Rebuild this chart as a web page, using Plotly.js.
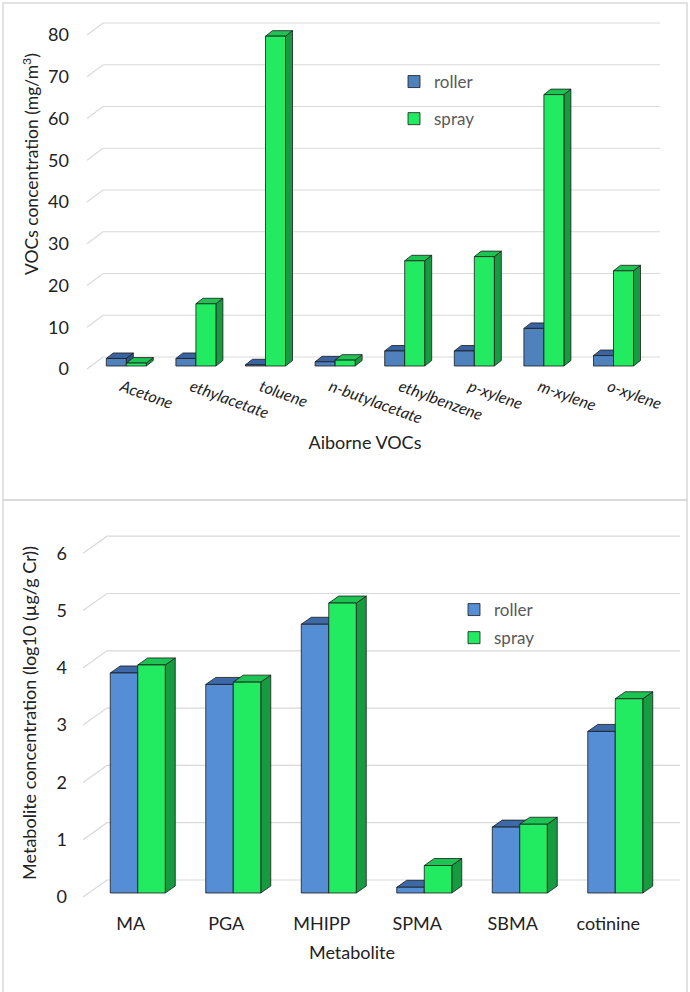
<!DOCTYPE html>
<html><head><meta charset="utf-8">
<script src="https://cdn.plot.ly/plotly-3.0.1.min.js"></script>
<style>html,body{margin:0;padding:0;background:#fff}#chart{width:690px;height:992px}</style>
</head><body><div id="chart"></div>
<script>
// ---------------- data ----------------
const vocCategories = ['Acetone','ethylacetate','toluene','n-butylacetate','ethylbenzene','p-xylene','m-xylene','o-xylene'];
const vocRoller = [1.8, 1.8, 0.3, 1.0, 3.6, 3.6, 9.0, 2.5];
const vocSpray  = [0.7, 14.9, 79.0, 1.4, 25.2, 26.2, 65.0, 22.8];
const vocTicks  = [0,10,20,30,40,50,60,70,80];

const metCategories = ['MA','PGA','MHIPP','SPMA','SBMA','cotinine'];
const metRoller = [3.84, 3.64, 4.69, 0.10, 1.15, 2.82];
const metSpray  = [3.98, 3.68, 5.06, 0.48, 1.20, 3.39];
const metTicks  = [0,1,2,3,4,5,6];

const seriesNames = ['roller','spray'];

// ---------------- geometry / style ----------------
const W = 690, H = 992;
const FONT = 'Lato, "Open Sans", sans-serif';
const TXT = '#222222';
const G1 = {floorL:87, catW:69.6, zeroY:369, ppu:4.175, dX:16, dY:12, barW:20, shX:4.5, shY:3, bdX:7, bdY:5.5,
            plotL:68, plotR:662, plotT:12, plotB:374, wallR:660, axisX:69};
const G2 = {floorL:83, catW:95.5, zeroY:897, ppu:57.3, dX:24, dY:17, barW:27.5, shX:7, shY:4, bdX:10, bdY:7,
            plotL:22, plotR:682, plotT:515, plotB:911, wallR:680, axisX:67};
const COL1 = {roller:'#4F81BD', rollerTop:'#3A64A0', rollerSide:'#2F5288', spray:'#22EB62', sprayTop:'#1DC453', spraySide:'#179B40'};
const COL2 = {roller:'#558ED5', rollerTop:'#3D69A6', rollerSide:'#30558A', spray:'#22EB62', sprayTop:'#1DC453', spraySide:'#179B40'};
const EDGE = '#1a1a1a';

function xRange(g){ return [(g.plotL-g.floorL)/g.catW-0.5, (g.plotR-g.floorL)/g.catW-0.5]; }
function yRange(g){ return [(g.zeroY-g.plotB)/g.ppu, (g.zeroY-g.plotT)/g.ppu]; }
function xDomain(g){ return [g.plotL/W, g.plotR/W]; }
function yDomain(g){ return [1-g.plotB/H, 1-g.plotT/H]; }
function pxToX(g,px){ return (px-g.floorL)/g.catW-0.5; }

function barTraces(g, cats, roller, spray, xa, ya, legend, col){
  const w = g.barW/g.catW, base = g.shY/g.ppu, sh = g.shX/g.catW;
  const idx = cats.map((c,i)=>i);
  return [
    {type:'bar', name:seriesNames[0], x:idx, y:roller, base:base, width:w, offset:sh-w,
     marker:{color:col.roller, line:{color:EDGE, width:0.8}}, xaxis:xa, yaxis:ya,
     legend:legend, legendgroup:legend+'a', hoverinfo:'skip'},
    {type:'bar', name:seriesNames[1], x:idx, y:spray, base:base, width:w, offset:sh,
     marker:{color:col.spray, line:{color:EDGE, width:0.8}}, xaxis:xa, yaxis:ya,
     legend:legend, legendgroup:legend+'b', hoverinfo:'skip'}
  ];
}

function faceShapes(g, roller, spray, xr, yr, col){
  const w = g.barW/g.catW, base = g.shY/g.ppu, sh = g.shX/g.catW;
  const ddx = g.bdX/g.catW, ddy = g.bdY/g.ppu;
  const out = [];
  const series = [
    {vals:roller, off:sh-w, top:col.rollerTop, side:col.rollerSide},
    {vals:spray,  off:sh,   top:col.sprayTop,  side:col.spraySide}
  ];
  series.forEach(s => {
    s.vals.forEach((v,i) => {
      const x0 = i+s.off, x1 = x0+w, t = base+v;
      out.push({type:'path', xref:xr, yref:yr, layer:'between',
        path:`M${x1},${base}L${x1},${t}L${x1+ddx},${t+ddy}L${x1+ddx},${base+ddy}Z`,
        fillcolor:s.side, line:{color:EDGE, width:0.8}});
      out.push({type:'path', xref:xr, yref:yr, layer:'between',
        path:`M${x0},${t}L${x1},${t}L${x1+ddx},${t+ddy}L${x0+ddx},${t+ddy}Z`,
        fillcolor:s.top, line:{color:EDGE, width:0.8}});
    });
  });
  return out;
}

function gridShapes(g, ticks, xr, yr){
  return ticks.map(v => {
    const yb = v + g.dY/g.ppu;
    return {type:'path', xref:xr, yref:yr, layer:'below',
      path:`M${pxToX(g,g.floorL)},${v}L${pxToX(g,g.floorL+g.dX)},${yb}L${pxToX(g,g.wallR)},${yb}`,
      line:{color:'#d9d9d9', width:1.2}};
  });
}

const data = [].concat(
  barTraces(G1, vocCategories, vocRoller, vocSpray, 'x', 'y', 'legend', COL1),
  barTraces(G2, metCategories, metRoller, metSpray, 'x2', 'y2', 'legend2', COL2)
);

const panelBorders = [
  {type:'rect', xref:'paper', yref:'paper', x0:3/W, x1:687/W, y0:1-500/H, y1:1-3/H, line:{color:'#d9d9d9', width:1.5}, layer:'below'},
  {type:'rect', xref:'paper', yref:'paper', x0:3/W, x1:687/W, y0:1-1000/H, y1:1-500/H, line:{color:'#d9d9d9', width:1.5}, layer:'below'}
];

const shapes = [].concat(
  panelBorders,
  gridShapes(G1, vocTicks, 'x', 'y'),
  gridShapes(G2, metTicks, 'x2', 'y2'),
  faceShapes(G1, vocRoller, vocSpray, 'x', 'y', COL1),
  faceShapes(G2, metRoller, metSpray, 'x2', 'y2', COL2)
);

const legendBase = {xanchor:'left', yanchor:'top', bgcolor:'rgba(0,0,0,0)', traceorder:'grouped',
  font:{family:FONT, size:17, color:'#595959'}};

const layout = {
  width: W, height: H, autosize:false,
  margin:{l:0, r:0, t:0, b:0, pad:0},
  paper_bgcolor:'#ffffff', plot_bgcolor:'rgba(0,0,0,0)',
  font:{family:FONT, color:TXT},
  barmode:'group', hovermode:false, showlegend:true,
  xaxis:{domain:xDomain(G1), range:xRange(G1), anchor:'y', showgrid:false, zeroline:false, showline:false,
    tickmode:'array', tickvals:vocCategories.map((c,i)=>i), ticktext:vocCategories, tickangle:20, ticks:'',
    tickfont:{family:FONT, size:16, color:TXT, style:'italic'}, automargin:false,
    title:{text:'Aiborne VOCs', font:{family:FONT, size:18, color:TXT}, standoff:10}},
  yaxis:{domain:yDomain(G1), range:yRange(G1), anchor:'free', position:G1.axisX/W, showgrid:false, zeroline:false,
    showline:false, tickmode:'array', tickvals:vocTicks, ticks:'', automargin:false,
    tickfont:{family:FONT, size:18, color:TXT}},
  xaxis2:{domain:xDomain(G2), range:xRange(G2), anchor:'y2', showgrid:false, zeroline:false, showline:false,
    tickmode:'array', tickvals:metCategories.map((c,i)=>i), ticktext:metCategories, ticks:'', automargin:false,
    tickfont:{family:FONT, size:18, color:TXT},
    title:{text:'Metabolite', font:{family:FONT, size:18, color:TXT}, standoff:13}},
  yaxis2:{domain:yDomain(G2), range:yRange(G2), anchor:'free', position:G2.axisX/W, showgrid:false, zeroline:false,
    showline:false, tickmode:'array', tickvals:metTicks, ticks:'', automargin:false,
    tickfont:{family:FONT, size:18, color:TXT},
    title:{text:'Metabolite concentration (log10 (µg/g Cr))', font:{family:FONT, size:18, color:TXT}, standoff:14}},
  legend: Object.assign({}, legendBase, {x:394/W, y:1-64/H, tracegroupgap:12}),
  legend2: Object.assign({}, legendBase, {x:454/W, y:1-592/H, tracegroupgap:3}),
  annotations:[
    {xref:'paper', yref:'paper', x:31/W, y:1-164/H, xanchor:'center', yanchor:'middle', textangle:-90, showarrow:false,
     text:'VOCs concentration (mg/m<sup>3</sup>)', font:{family:FONT, size:17.5, color:TXT}}
  ],
  shapes: shapes
};

Plotly.newPlot('chart', data, layout, {staticPlot:true, displayModeBar:false});
</script>
</body></html>
